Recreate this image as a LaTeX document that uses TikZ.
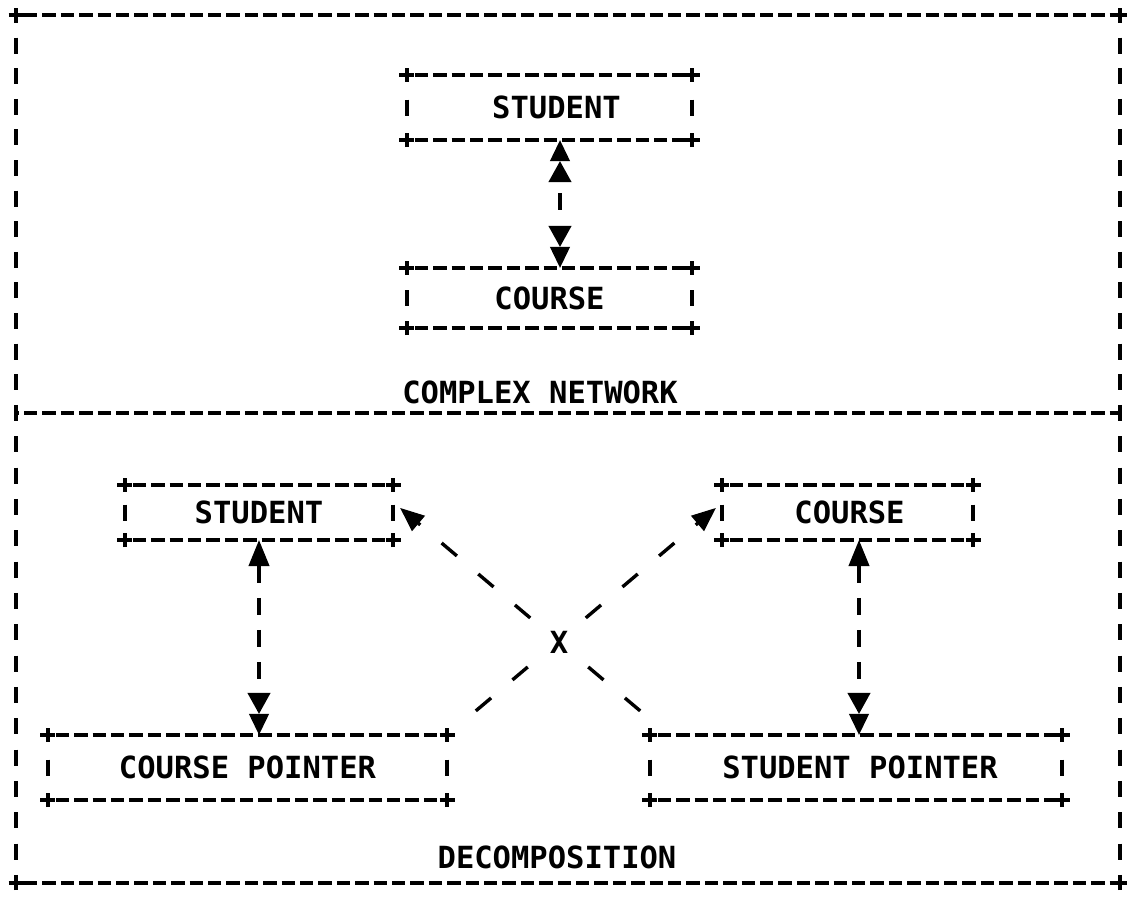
\documentclass[tikz,border=0pt]{standalone}
\usepackage{fontspec}
\newfontfamily\plotfont{DejaVu Sans Mono}
\usetikzlibrary{arrows.meta}
\tikzset{
  ink/.style={line width=3.6pt, draw=black},
  hdash/.style={ink, dash pattern=on 13.4pt off 5pt, dash phase=10.4pt},
  txt/.style={font=\plotfont\bfseries\fontsize{30.5}{32}\selectfont, text height=22pt, text depth=0pt, inner sep=0pt},
  abox/.style={txt},
  dbl/.tip={Triangle[length=21pt,width=23pt,line width=1.2pt,sep=0pt] Triangle[length=21pt,width=20pt,line width=1.2pt,sep=0pt]},
  sgl/.tip={Triangle[length=26pt,width=21pt,line width=1.2pt]},
  dgl/.tip={Triangle[length=24pt,width=20pt,line width=1.2pt]},
  vconn/.style={ink, dash pattern=on 17pt off 15pt},
  diag/.style={ink, line width=3.4pt, dash pattern=on 20pt off 28pt, dash phase=21pt},
}
\newcommand\plusat[1]{\draw[ink, line width=4.4pt] ([xshift=-7.5pt]#1) -- ([xshift=7.5pt]#1) ([yshift=-7pt]#1) -- ([yshift=7pt]#1);}
\newcommand\decobox[1]{%
  \draw[hdash] (#1.north west) -- (#1.north east);
  \draw[hdash] (#1.south west) -- (#1.south east);
  \draw[ink] ([yshift=8pt]#1.west) -- ([yshift=-8pt]#1.west);
  \draw[ink] ([yshift=8pt]#1.east) -- ([yshift=-8pt]#1.east);
  \plusat{#1.north west}\plusat{#1.north east}\plusat{#1.south west}\plusat{#1.south east}}
\begin{document}
\begin{tikzpicture}[x=1pt,y=-1pt]
\useasboundingbox (0,0) rectangle (1127,897);
% outer frame
\coordinate (tl) at (16,15);
\coordinate (tr) at (1120,15);
\coordinate (ml) at (16,413);
\coordinate (mr) at (1120,413);
\coordinate (bl) at (16,883);
\coordinate (br) at (1120,883);
\draw[hdash] (tl) -- (tr);
\draw[hdash] (bl) -- (br);
\draw[hdash] (ml) -- (mr);
\draw[ink, dash pattern=on 16pt off 14.6pt, dash phase=8pt] (tl) -- (ml);
\draw[ink, dash pattern=on 16pt off 14.6pt, dash phase=8pt] (tr) -- (mr);
\draw[ink, dash pattern=on 16pt off 15.33pt, dash phase=8pt] (ml) -- (bl);
\draw[ink, dash pattern=on 16pt off 15.33pt, dash phase=8pt] (mr) -- (br);
\plusat{tl}\plusat{tr}\plusat{bl}\plusat{br}
% boxes
\node[abox, minimum width=285pt, minimum height=65pt] (s1) at (549.5,107.5) {\hspace*{14pt}STUDENT};
\node[abox, minimum width=285pt, minimum height=60pt] (c1) at (549.5,298) {COURSE};
\node[abox, minimum width=268pt, minimum height=55pt] (s2) at (259,512.5) {STUDENT};
\node[abox, minimum width=251pt, minimum height=55pt] (c2) at (847.5,512.5) {\hspace*{4pt}COURSE};
\node[abox, minimum width=399pt, minimum height=65pt] (cp) at (247.5,767.5) {COURSE POINTER};
\node[abox, minimum width=412pt, minimum height=65pt] (sp) at (856,767.5) {\hspace*{8pt}STUDENT POINTER};
\foreach \b in {s1,c1,s2,c2,cp,sp} {\decobox{\b}}
% labels
\node[txt] (cn) at (540,392) {COMPLEX NETWORK};
\node[txt] (dc) at (557,857) {DECOMPOSITION};
% vertical connectors
\coordinate (ax1) at (560,0);
\coordinate (ax2) at (259,0);
\coordinate (ax3) at (859,0);
\draw[ink, dash pattern=on 0pt off 1000pt, {dbl}-{dbl}] (s1.south -| ax1) -- (c1.north -| ax1);
\draw[ink, shorten <=53pt, shorten >=58pt] (s1.south -| ax1) -- (c1.north -| ax1);
\draw[vconn, {sgl}-{dbl}] (s2.south -| ax2) -- (cp.north -| ax2);
\draw[vconn, {sgl}-{dbl}] (c2.south -| ax3) -- (sp.north -| ax3);
% diagonal connectors
\draw[diag, -{dgl}] ([shift={(8pt,6.5pt)}]cp.north east) -- ([shift={(-6pt,4.5pt)}]c2.west);
\draw[diag, -{dgl}] ([shift={(11pt,6.5pt)}]sp.north west) -- ([shift={(7pt,4.5pt)}]s2.east);
\node[txt, fill=white, inner sep=4pt] (xx) at (559,642) {X};
\end{tikzpicture}
\end{document}
